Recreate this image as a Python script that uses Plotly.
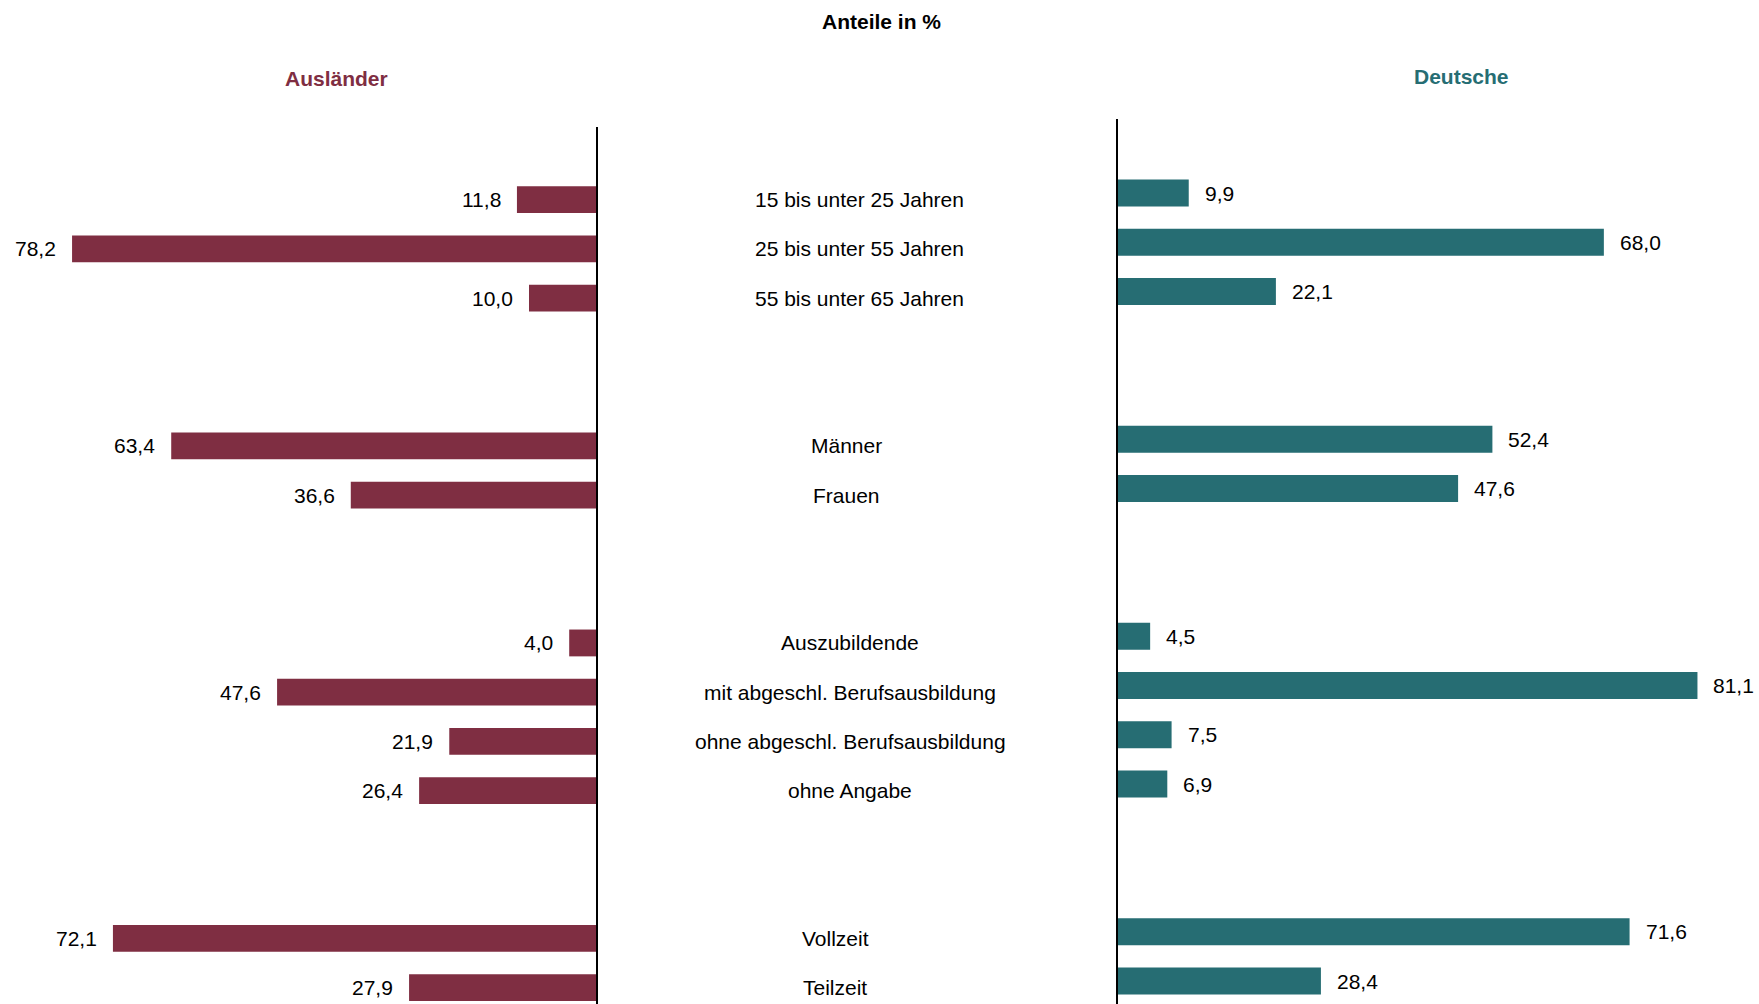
import plotly.graph_objects as go

# ---- data ----
categories = [
    "15 bis unter 25 Jahren", "25 bis unter 55 Jahren", "55 bis unter 65 Jahren",
    "Männer", "Frauen",
    "Auszubildende", "mit abgeschl. Berufsausbildung", "ohne abgeschl. Berufsausbildung", "ohne Angabe",
    "Vollzeit", "Teilzeit",
]
group_sizes = [3, 2, 4, 2]
auslaender = [11.8, 78.2, 10.0, 63.4, 36.6, 4.0, 47.6, 21.9, 26.4, 72.1, 27.9]
deutsche = [9.9, 68.0, 22.1, 52.4, 47.6, 4.5, 81.1, 7.5, 6.9, 71.6, 28.4]
title_text = "Anteile in %"
left_name = "Ausländer"
right_name = "Deutsche"

# ---- styles / layout ----
W, H = 1759, 1004
C_LEFT = "#7f2e42"
C_RIGHT = "#266d73"
FONT = "Arial, 'Liberation Sans', sans-serif"
FS = 21
GAP = 2  # empty slots between groups
group_label_px = [859, 846, 850, 835]  # centre x of labels per group (px)

# slot positions derived from group structure
pos, grp = [], []
s = 0
for gi, n in enumerate(group_sizes):
    for _ in range(n):
        pos.append(s)
        grp.append(gi)
        s += 1
    s += GAP

fmt = lambda v: f"{v:.1f}".replace(".", ",")

fig = go.Figure()
fig.add_trace(go.Bar(
    x=auslaender, y=pos, orientation="h", width=0.545,
    marker=dict(color=C_LEFT, line=dict(width=0)),
    xaxis="x", yaxis="y", hoverinfo="skip", showlegend=False,
))
fig.add_trace(go.Bar(
    x=deutsche, y=pos, orientation="h", width=0.545,
    marker=dict(color=C_RIGHT, line=dict(width=0)),
    xaxis="x2", yaxis="y2", hoverinfo="skip", showlegend=False,
))

ann = []
for v, p in zip(auslaender, pos):
    ann.append(dict(x=v, y=p, xref="x", yref="y", text=fmt(v), showarrow=False,
                    xanchor="right", yanchor="middle", xshift=-14,
                    font=dict(family=FONT, size=FS, color="#000")))
for v, p in zip(deutsche, pos):
    ann.append(dict(x=v, y=p, xref="x2", yref="y2", text=fmt(v), showarrow=False,
                    xanchor="left", yanchor="middle", xshift=14,
                    font=dict(family=FONT, size=FS, color="#000")))
for c, p, g in zip(categories, pos, grp):
    ann.append(dict(x=group_label_px[g] / W, y=p, xref="paper", yref="y", text=c,
                    showarrow=False, xanchor="center", yanchor="middle",
                    font=dict(family=FONT, size=FS, color="#000")))

ann.append(dict(x=881 / W, y=1 - 22 / H, xref="paper", yref="paper", text=f"<b>{title_text}</b>",
                showarrow=False, xanchor="center", yanchor="middle",
                font=dict(family=FONT, size=FS, color="#000")))
ann.append(dict(x=336 / W, y=1 - 78 / H, xref="paper", yref="paper", text=f"<b>{left_name}</b>",
                showarrow=False, xanchor="center", yanchor="middle",
                font=dict(family=FONT, size=FS, color=C_LEFT)))
ann.append(dict(x=1461 / W, y=1 - 76 / H, xref="paper", yref="paper", text=f"<b>{right_name}</b>",
                showarrow=False, xanchor="center", yanchor="middle",
                font=dict(family=FONT, size=FS, color=C_RIGHT)))

SLOT = 49.25
left_axis_px, right_axis_px = 596, 1118
left_scale, right_scale = 6.70, 7.145
l_top_px, l_c0 = 127, 199.7
r_top_px, r_c0 = 119, 193.0

fig.update_layout(
    width=W, height=H,
    margin=dict(l=0, r=0, t=0, b=0),
    paper_bgcolor="white", plot_bgcolor="white",
    font=dict(family=FONT, size=FS, color="#000"),
    barmode="overlay",
    xaxis=dict(domain=[0, left_axis_px / W], range=[left_axis_px / left_scale, 0],
               visible=False, anchor="y"),
    xaxis2=dict(domain=[right_axis_px / W, 1], range=[0, (W - right_axis_px) / right_scale],
                visible=False, anchor="y2"),
    yaxis=dict(domain=[0, 1 - l_top_px / H],
               range=[(H - l_c0) / SLOT, -(l_c0 - l_top_px) / SLOT],
               anchor="x", side="right", showline=True, linecolor="#000", linewidth=2,
               showticklabels=False, showgrid=False, zeroline=False, ticks=""),
    yaxis2=dict(domain=[0, 1 - r_top_px / H],
                range=[(H - r_c0) / SLOT, -(r_c0 - r_top_px) / SLOT],
                anchor="x2", side="left", showline=True, linecolor="#000", linewidth=2,
                showticklabels=False, showgrid=False, zeroline=False, ticks=""),
    annotations=ann,
)

fig.write_html("out.html", config={"displayModeBar": False},
               post_script="document.body.style.margin='0';document.body.style.overflow='hidden';")
